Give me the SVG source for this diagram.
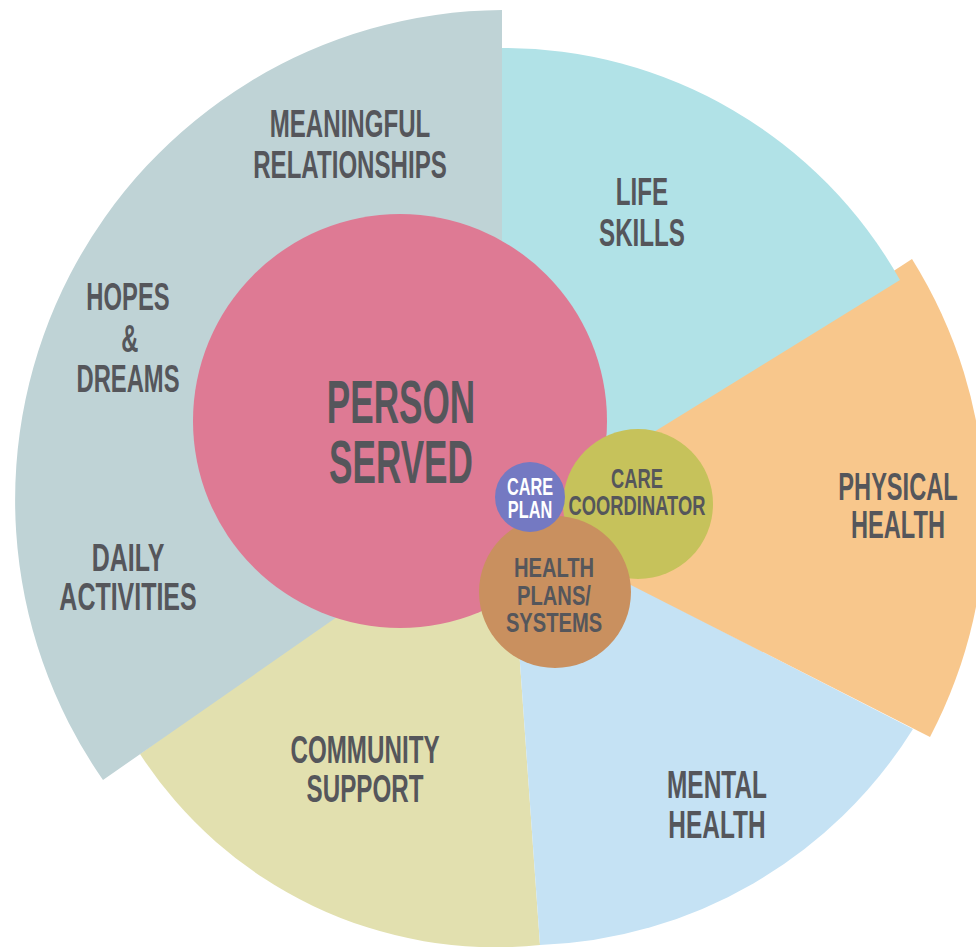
<svg xmlns="http://www.w3.org/2000/svg" width="976" height="947" viewBox="0 0 976 947">
<style>
text{font-family:"Liberation Sans","DejaVu Sans",sans-serif;font-weight:bold;fill:#55565b;text-anchor:middle}
.l{font-size:39px}
.xl{font-size:62px}
.s{font-size:28px}
.w{fill:#ffffff;font-size:24px}
</style>
<rect width="976" height="947" fill="#ffffff"/>
<g id="community-support">
<path d="M510,522 L540,945 A424,424 0 0 1 140,754 L430,545 Z" fill="#e2e0af"/>
<text class="l" transform="translate(365,0) scale(0.62,1)"><tspan x="0" y="763">COMMUNITY</tspan><tspan x="0" y="802">SUPPORT</tspan></text>
</g>
<g id="mental-health">
<path d="M510,522 L913,729 A460,460 0 0 1 540,945 Z" fill="#c5e2f4"/>
<text class="l" transform="translate(717,0) scale(0.627,1)"><tspan x="0" y="798">MENTAL</tspan><tspan x="0" y="838">HEALTH</tspan></text>
</g>
<g id="physical-health">
<path d="M507,522 L912,259 A480,480 0 0 1 930,737 Z" fill="#f8c78c"/>
<text class="l" transform="translate(898,0) scale(0.605,1)"><tspan x="0" y="500">PHYSICAL</tspan><tspan x="0" y="538">HEALTH</tspan></text>
</g>
<g id="life-skills">
<path d="M502,522 L502,48 A455,455 0 0 1 900,280 L505,524 Z" fill="#b1e2e7"/>
<text class="l" transform="translate(642,0) scale(0.62,1)"><tspan x="0" y="205">LIFE</tspan><tspan x="0" y="246">SKILLS</tspan></text>
</g>
<g id="personal-life">
<path d="M502,502 L103,780 A490,490 0 0 1 502,10 Z" fill="#bfd3d6"/>
<text class="l" transform="translate(350,0) scale(0.618,1)"><tspan x="0" y="137">MEANINGFUL</tspan><tspan x="0" y="178">RELATIONSHIPS</tspan></text>
<text class="l" transform="translate(128,0) scale(0.61,1)"><tspan x="0" y="310">HOPES</tspan><tspan x="3" y="352">&amp;</tspan><tspan x="0" y="392">DREAMS</tspan></text>
<text class="l" transform="translate(128,0) scale(0.64,1)"><tspan x="0" y="571">DAILY</tspan><tspan x="0" y="610">ACTIVITIES</tspan></text>
</g>
<g id="person-served">
<circle cx="400" cy="421" r="207" fill="#de7a94"/>
<text class="xl" transform="translate(401,0) scale(0.567,1)"><tspan x="0" y="423">PERSON</tspan><tspan x="0" y="483">SERVED</tspan></text>
</g>
<g id="care-coordinator">
<circle cx="638" cy="504" r="75" fill="#c6c25b"/>
<text class="s" transform="translate(637,0) scale(0.655,1)"><tspan x="0" y="488">CARE</tspan><tspan x="0" y="515">COORDINATOR</tspan></text>
</g>
<g id="health-plans">
<circle cx="555" cy="592" r="76" fill="#c9905f"/>
<text class="s" transform="translate(554,0) scale(0.72,1)"><tspan x="0" y="577">HEALTH</tspan><tspan x="0" y="605">PLANS/</tspan><tspan x="0" y="632">SYSTEMS</tspan></text>
</g>
<g id="care-plan">
<circle cx="530" cy="497" r="35" fill="#7479c2"/>
<text class="w" transform="translate(530,0) scale(0.68,1)"><tspan x="0" y="495">CARE</tspan><tspan x="0" y="518">PLAN</tspan></text>
</g>
<g id="connectors"/>
</svg>
